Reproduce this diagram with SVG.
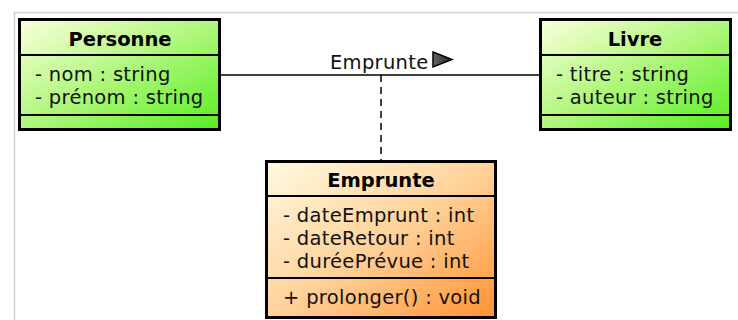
<svg xmlns="http://www.w3.org/2000/svg" width="738" height="320" viewBox="0 0 738 320">
<defs>
<linearGradient id="gGreen" x1="0" y1="0" x2="1" y2="1">
<stop offset="0" stop-color="#fbffdc"/>
<stop offset="0.5" stop-color="#aef77a"/>
<stop offset="1" stop-color="#55ee22"/>
</linearGradient>
<linearGradient id="gOrange" x1="0" y1="0" x2="1" y2="1">
<stop offset="0" stop-color="#fffbe2"/>
<stop offset="0.5" stop-color="#ffd29a"/>
<stop offset="1" stop-color="#ff9233"/>
</linearGradient>
<linearGradient id="gTri" x1="0" y1="0" x2="1" y2="0">
<stop offset="0" stop-color="#666"/>
<stop offset="1" stop-color="#222"/>
</linearGradient>
</defs>
<style>
.box{stroke:#000;stroke-width:3}
.div{stroke:#000;stroke-width:2}
.title{font-family:"DejaVu Sans",sans-serif;font-weight:bold;font-size:19.5px;fill:#000;text-anchor:middle}
.attr{font-family:"DejaVu Sans",sans-serif;font-size:19.5px;letter-spacing:0.3px;fill:#111}
.conn{stroke:#000;stroke-width:1.5;fill:none}
</style>
<rect x="14.5" y="12.5" width="730" height="320" fill="#fff" stroke="#cfcfcf" stroke-width="1.5"/>
<g id="connectors">
<line class="conn" x1="221" y1="75" x2="539" y2="75"/>
<line class="conn" x1="381" y1="75" x2="381" y2="160" stroke-dasharray="7,5"/>
<text class="attr" x="330" y="69">Emprunte</text>
<polygon points="433,52 452,59.5 433,67" fill="url(#gTri)" stroke="#000" stroke-width="1.5"/>
</g>
<g id="personne">
<rect class="box" x="19.5" y="19.5" width="200" height="110" fill="url(#gGreen)"/>
<line class="div" x1="19.5" y1="55" x2="219.5" y2="55"/>
<line class="div" x1="19.5" y1="115" x2="219.5" y2="115"/>
<text class="title" x="120" y="46">Personne</text>
<text class="attr" x="35" y="81">- nom : string</text>
<text class="attr" x="35" y="104">- prénom : string</text>
</g>
<g id="livre">
<rect class="box" x="540.5" y="19.5" width="190" height="110" fill="url(#gGreen)"/>
<line class="div" x1="540.5" y1="55" x2="730.5" y2="55"/>
<line class="div" x1="540.5" y1="115" x2="730.5" y2="115"/>
<text class="title" x="635" y="46">Livre</text>
<text class="attr" x="556" y="81">- titre : string</text>
<text class="attr" x="556" y="104">- auteur : string</text>
</g>
<g id="emprunte">
<rect class="box" x="266.5" y="161.5" width="229" height="156" fill="url(#gOrange)"/>
<line class="div" x1="266.5" y1="196" x2="495.5" y2="196"/>
<line class="div" x1="266.5" y1="278" x2="495.5" y2="278"/>
<text class="title" x="381" y="187">Emprunte</text>
<text class="attr" x="283" y="222">- dateEmprunt : int</text>
<text class="attr" x="283" y="245">- dateRetour : int</text>
<text class="attr" x="283" y="268">- duréePrévue : int</text>
<text class="attr" x="283" y="304">+ prolonger() : void</text>
</g>
</svg>
